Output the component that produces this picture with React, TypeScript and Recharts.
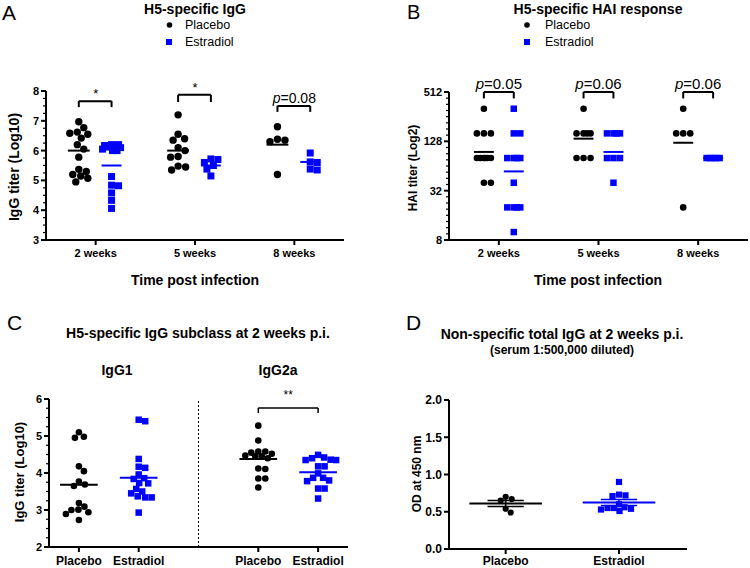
import React from "react";
import { ReferenceDot, ReferenceLine, Scatter, ScatterChart, XAxis, YAxis } from "recharts";

const FONT = "'Liberation Sans', Arial, Helvetica, sans-serif";
const BLUE = "#0000ff";
const BLACK = "#000000";

// ---------- A: H5-specific IgG (log10 titer) ----------
const weeks = ["2 weeks", "5 weeks", "8 weeks"];
const iggPlacebo2w = [6.97, 6.77, 6.62, 6.58, 6.55, 6.42, 6.2, 6.05, 5.78, 5.37, 5.3, 5.2, 5.15, 5.07, 4.95];
const iggEstradiol2w = [6.2, 6.2, 6.17, 6.15, 6.12, 6.1, 6.05, 6.0, 6.0, 5.13, 4.84, 4.82, 4.58, 4.33, 4.06];
const iggPlacebo5w = [7.2, 6.55, 6.4, 6.35, 6.1, 6.0, 5.8, 5.78, 5.48, 5.45, 5.35];
const iggEstradiol5w = [5.72, 5.7, 5.6, 5.5, 5.38, 5.15];
const iggPlacebo8w = [6.8, 6.38, 6.35, 6.3, 5.2];
const iggEstradiol8w = [5.92, 5.62, 5.6, 5.38, 5.35];
const iggPlaceboMean = [6.0, 6.0, 6.2];
const iggEstradiolMean = [5.5, 5.5, 5.62];
const iggStars = ["*", "*", "p=0.08"];

// ---------- B: HAI titers ----------
const haiPlacebo2w = [320, 160, 160, 160, 80, 80, 80, 80, 80, 80, 40, 40];
const haiEstradiol2w = [320, 160, 160, 80, 80, 80, 80, 40, 20, 20, 20, 20, 10];
const haiPlacebo5w = [320, 160, 160, 160, 160, 80, 80, 80];
const haiEstradiol5w = [160, 160, 160, 160, 80, 80, 80, 40];
const haiPlacebo8w = [320, 160, 160, 160, 20];
const haiEstradiol8w = [80, 80, 80, 80, 80];
const haiPlaceboMean = [95, 138, 123];
const haiEstradiolMean = [55, 95, 80];
const haiPvalues = ["p=0.05", "p=0.06", "p=0.06"];

// ---------- C: IgG subclass (log10 titer) ----------
const subclassTicks = ["Placebo", "Estradiol", "Placebo", "Estradiol"];
const igg1Placebo = [5.1, 4.95, 4.98, 4.18, 4.05, 3.77, 3.65, 3.69, 3.19, 2.94, 3.01, 3.0, 3.09, 2.89, 2.73];
const igg1Estradiol = [5.44, 5.4, 4.38, 4.14, 4.17, 3.96, 3.84, 3.86, 3.72, 3.73, 3.57, 3.45, 3.5, 3.34, 3.34, 3.37, 2.93];
const igg2aPlacebo = [5.28, 4.88, 4.58, 4.55, 4.52, 4.58, 4.45, 4.47, 4.45, 4.4, 4.12, 4.11, 3.85, 3.85, 3.61];
const igg2aEstradiol = [4.4, 4.36, 4.42, 4.49, 4.35, 4.35, 4.18, 4.18, 3.8, 3.87, 3.87, 3.78, 3.99, 3.58, 3.58, 3.31];
const subclassMeans = [3.68, 3.87, 4.38, 4.02];

// ---------- D: total IgG OD450 ----------
const odTicks = ["Placebo", "Estradiol"];
const odPlacebo = [0.67, 0.65, 0.7, 0.54, 0.49];
const odEstradiol = [0.9, 0.72, 0.73, 0.71, 0.6, 0.55, 0.54, 0.51, 0.53, 0.55, 0.56];
const odMean = [0.61, 0.625];
const odSem = [0.04, 0.04];

type Pt = { x: number; y: number };

// simple beeswarm: spread points of similar value sideways (px units)
function swarm(values: number[], center: number, sx: number, sy: number, diam: number, maxHalf: number): Pt[] {
  const order = values.map((_, i) => i).sort((a, b) => values[b] - values[a]);
  const cands = [0];
  for (let s = 0.5; s <= maxHalf; s += 0.5) cands.push(s, -s);
  const placed: { dx: number; py: number }[] = [];
  const out: Pt[] = new Array(values.length);
  for (const i of order) {
    const py = values[i] * sy;
    let best = 0;
    let bestDist = -1;
    for (const dx of cands) {
      let m = Infinity;
      for (const p of placed) m = Math.min(m, Math.hypot(p.dx - dx, p.py - py));
      if (m >= diam) { best = dx; break; }
      if (m > bestDist + 0.01) { bestDist = m; best = dx; }
    }
    placed.push({ dx: best, py });
    out[i] = { x: center + best / sx, y: values[i] };
  }
  return out;
}

const log2 = (v: number) => Math.log2(v);

const dot = (r: number) => (p: any) => <circle cx={p.cx} cy={p.cy} r={r} fill={BLACK} />;
const square = (s: number) => (p: any) => <rect x={p.cx - s / 2} y={p.cy - s / 2} width={s} height={s} fill={BLUE} />;

function hSeg(key: string, x1: number, x2: number, y: number, color = BLACK, w = 2) {
  return <ReferenceLine key={key} segment={[{ x: x1, y }, { x: x2, y }]} stroke={color} strokeWidth={w} ifOverflow="visible" />;
}
function vSeg(key: string, x: number, y1: number, y2: number, color = BLACK, w = 2) {
  return <ReferenceLine key={key} segment={[{ x, y: y1 }, { x, y: y2 }]} stroke={color} strokeWidth={w} ifOverflow="visible" />;
}
function bracket(key: string, x1: number, x2: number, yTop: number, yLeg: number, w = 2) {
  return [vSeg(key + "l", x1, yLeg, yTop, BLACK, w), hSeg(key + "h", x1, x2, yTop, BLACK, w), vSeg(key + "r", x2, yLeg, yTop, BLACK, w)];
}
function note(key: string, x: number, y: number, label: string, size: number) {
  const isP = label.startsWith("p=");
  return (
    <ReferenceDot
      key={key}
      x={x}
      y={y}
      r={0}
      ifOverflow="visible"
      shape={(p: any) => (
        <text x={p.cx} y={p.cy} textAnchor="middle" dominantBaseline="central" fontSize={size} fontFamily={FONT} fill={BLACK}>
          {isP ? (
            <>
              <tspan fontStyle="italic">p</tspan>
              {label.slice(1)}
            </>
          ) : (
            label
          )}
        </text>
      )}
    />
  );
}

const yTick = (axisX: number, majors: number[], fmt: (v: number) => string, size: number) => (props: any) => {
  const { y, payload } = props;
  const v = payload.value;
  const major = majors.some((m) => Math.abs(m - v) < 1e-6);
  return (
    <g>
      <line x1={axisX - (major ? 5 : 3)} x2={axisX} y1={y} y2={y} stroke={BLACK} strokeWidth={major ? 2 : 1.2} />
      {major && (
        <text x={axisX - 7} y={y} dy="0.36em" textAnchor="end" fontSize={size} fontWeight={700} fontFamily={FONT} fill={BLACK}>
          {fmt(v)}
        </text>
      )}
    </g>
  );
};

const steps = (from: number, to: number, step: number) => {
  const out: number[] = [];
  for (let i = 0; from + i * step <= to + 1e-9; i++) out.push(+(from + i * step).toFixed(4));
  return out;
};

const axisLine = { stroke: BLACK, strokeWidth: 2 };
const xTickStyle = (size: number) => ({ fill: BLACK, fontSize: size, fontWeight: 700, fontFamily: FONT });

// ---------- Panel A ----------
function PanelA() {
  const sx = 298 / 3, sy = 149 / 5;
  const offP = -0.17, offE = 0.16;
  const placebo = [iggPlacebo2w, iggPlacebo5w, iggPlacebo8w].flatMap((g, i) => swarm(g, i + 0.5 + offP, sx, sy, 7.5, 9));
  const estradiol = [iggEstradiol2w, iggEstradiol5w, iggEstradiol8w].flatMap((g, i) => swarm(g, i + 0.5 + offE, sx, sy, 7, 9));
  const brTop = [7.66, 7.87, 7.5];
  const brLeg = [7.46, 7.63, 7.3];
  const noteY = [7.93, 8.13, 7.77];
  return (
    <ScatterChart width={375} height={300} margin={{ top: 91, right: 31, bottom: 20, left: 6 }}>
      <XAxis type="number" dataKey="x" domain={[0, 3]} ticks={[0.5, 1.5, 2.5]} tickFormatter={(v: number) => weeks[Math.floor(v)]}
        axisLine={axisLine} tickLine={axisLine} tickSize={5} tickMargin={4} tick={xTickStyle(11)} height={40} interval={0} />
      <YAxis type="number" dataKey="y" domain={[3, 8]} allowDataOverflow ticks={steps(3, 8, 0.25)} interval={0} width={40}
        axisLine={axisLine} tickLine={false} tickSize={0} tickMargin={0} tick={yTick(46, steps(3, 8, 1), (v) => String(v), 11)} />
      <Scatter data={placebo} shape={dot(3.7)} isAnimationActive={false} />
      <Scatter data={estradiol} shape={square(7)} isAnimationActive={false} />
      {iggPlaceboMean.map((m, i) => hSeg("pm" + i, i + 0.5 + offP - 0.11, i + 0.5 + offP + 0.11, m))}
      {iggEstradiolMean.map((m, i) => hSeg("em" + i, i + 0.5 + offE - 0.1, i + 0.5 + offE + 0.1, m, BLUE))}
      {weeks.flatMap((_, i) => bracket("br" + i, i + 0.5 + offP, i + 0.5 + offE, brTop[i], brLeg[i]))}
      {iggStars.map((s, i) => note("n" + i, i + 0.5, noteY[i], s, s === "*" ? 13 : 14))}
    </ScatterChart>
  );
}

// ---------- Panel B ----------
function PanelB() {
  const sx = 299 / 3, sy = 148 / 6;
  const offP = -0.15, offE = 0.15;
  const placebo = [haiPlacebo2w, haiPlacebo5w, haiPlacebo8w].flatMap((g, i) => swarm(g.map(log2), i + 0.5 + offP, sx, sy, 6.6, 7));
  const estradiol = [haiEstradiol2w, haiEstradiol5w, haiEstradiol8w].flatMap((g, i) => swarm(g.map(log2), i + 0.5 + offE, sx, sy, 6.5, 7));
  return (
    <ScatterChart width={375} height={300} margin={{ top: 92, right: 2, bottom: 20, left: 34 }}>
      <XAxis type="number" dataKey="x" domain={[0, 3]} ticks={[0.5, 1.5, 2.5]} tickFormatter={(v: number) => weeks[Math.floor(v)]}
        axisLine={axisLine} tickLine={axisLine} tickSize={5} tickMargin={4} tick={xTickStyle(11)} height={40} interval={0} />
      <YAxis type="number" dataKey="y" domain={[3, 9]} allowDataOverflow ticks={steps(3, 9, 0.25)} interval={0} width={40}
        axisLine={axisLine} tickLine={false} tickSize={0} tickMargin={0} tick={yTick(74, [3, 5, 7, 9], (v) => String(2 ** v), 11)} />
      <Scatter data={placebo} shape={dot(3.3)} isAnimationActive={false} />
      <Scatter data={estradiol} shape={square(6.5)} isAnimationActive={false} />
      {haiPlaceboMean.map((m, i) => hSeg("pm" + i, i + 0.5 + offP - 0.1, i + 0.5 + offP + 0.1, log2(m)))}
      {haiEstradiolMean.map((m, i) => hSeg("em" + i, i + 0.5 + offE - 0.1, i + 0.5 + offE + 0.1, log2(m), BLUE))}
      {weeks.flatMap((_, i) => bracket("br" + i, i + 0.5 + offP, i + 0.5 + offE, 9, 8.74))}
      {haiPvalues.map((s, i) => note("n" + i, i + 0.5, 9.36, s, 15))}
    </ScatterChart>
  );
}

// ---------- Panel C ----------
function PanelC() {
  const sx = 299 / 10, sy = 148 / 4;
  const centers = [1, 3, 7, 9];
  const placebo = [...swarm(igg1Placebo, 1, sx, sy, 6.6, 16), ...swarm(igg2aPlacebo, 7, sx, sy, 6.6, 16)];
  const estradiol = [...swarm(igg1Estradiol, 3, sx, sy, 6.5, 18), ...swarm(igg2aEstradiol, 9, sx, sy, 6.5, 18)];
  return (
    <ScatterChart width={375} height={268} margin={{ top: 99, right: 27, bottom: 1, left: 9 }}>
      <XAxis type="number" dataKey="x" domain={[0, 10]} ticks={centers} tickFormatter={(v: number) => subclassTicks[centers.indexOf(v)]}
        axisLine={axisLine} tickLine={axisLine} tickSize={5} tickMargin={4} tick={xTickStyle(12)} height={20} interval={0} />
      <YAxis type="number" dataKey="y" domain={[2, 6]} allowDataOverflow ticks={steps(2, 6, 0.25)} interval={0} width={40}
        axisLine={axisLine} tickLine={false} tickSize={0} tickMargin={0} tick={yTick(49, steps(2, 6, 1), (v) => String(v), 11)} />
      <ReferenceLine x={5} stroke={BLACK} strokeWidth={1} strokeDasharray="2 2" />
      <Scatter data={placebo} shape={dot(3.3)} isAnimationActive={false} />
      <Scatter data={estradiol} shape={square(6.5)} isAnimationActive={false} />
      {subclassMeans.map((m, i) => hSeg("m" + i, centers[i] - 0.63, centers[i] + 0.63, m, i % 2 ? BLUE : BLACK))}
      {bracket("br", 7, 9, 5.76, 5.62, 1.5)}
      {note("n", 8, 6.11, "**", 12)}
    </ScatterChart>
  );
}

// ---------- Panel D ----------
function PanelD() {
  const sx = 238 / 4.2, sy = 149 / 2;
  const centers = [1, 3];
  const placebo = swarm(odPlacebo, 1, sx, sy, 6.2, 28);
  const estradiol = swarm(odEstradiol, 3, sx, sy, 6.2, 28);
  return (
    <ScatterChart width={375} height={268} margin={{ top: 100, right: 63, bottom: 1, left: 34 }}>
      <XAxis type="number" dataKey="x" domain={[0, 4.2]} ticks={centers} tickFormatter={(v: number) => odTicks[centers.indexOf(v)]}
        axisLine={axisLine} tickLine={axisLine} tickSize={5} tickMargin={2} tick={xTickStyle(12)} height={18} interval={0} />
      <YAxis type="number" dataKey="y" domain={[0, 2]} allowDataOverflow ticks={steps(0, 2, 0.5)} interval={0} width={40}
        axisLine={axisLine} tickLine={false} tickSize={0} tickMargin={0} tick={yTick(74, steps(0, 2, 0.5), (v) => v.toFixed(1), 12)} />
      <Scatter data={placebo} shape={dot(3.1)} isAnimationActive={false} />
      <Scatter data={estradiol} shape={square(6.2)} isAnimationActive={false} />
      {odMean.flatMap((m, i) => {
        const c = centers[i];
        const col = i ? BLUE : BLACK;
        return [
          hSeg("m" + i, c - 0.64, c + 0.64, m, col, 2),
          hSeg("su" + i, c - 0.32, c + 0.32, m + odSem[i], col, 1.5),
          hSeg("sl" + i, c - 0.32, c + 0.32, m - odSem[i], col, 1.5),
          vSeg("sv" + i, c, m - odSem[i], m + odSem[i], col, 1.5),
        ];
      })}
    </ScatterChart>
  );
}

const T = (p: { x: number; y: number; size: number; bold?: boolean; anchor?: "start" | "middle" | "end"; rotate?: boolean; children: React.ReactNode }) => (
  <text
    x={p.x}
    y={p.y}
    fontSize={p.size}
    fontWeight={p.bold ? 700 : 400}
    fontFamily={FONT}
    fill={BLACK}
    textAnchor={p.anchor ?? "middle"}
    dominantBaseline="central"
    transform={p.rotate ? `rotate(-90 ${p.x} ${p.y})` : undefined}
  >
    {p.children}
  </text>
);

function Overlay() {
  return (
    <svg width={750} height={568} style={{ position: "absolute", left: 0, top: 0, pointerEvents: "none" }}>
      {/* panel letters */}
      <text x={2} y={20} fontSize={21} fontFamily={FONT} fill={BLACK}>A</text>
      <text x={407} y={19} fontSize={20} fontFamily={FONT} fill={BLACK}>B</text>
      <text x={7} y={330} fontSize={21} fontFamily={FONT} fill={BLACK}>C</text>
      <text x={406} y={330} fontSize={21} fontFamily={FONT} fill={BLACK}>D</text>

      {/* A */}
      <T x={195} y={9} size={14} bold>H5-specific IgG</T>
      <circle cx={169.5} cy={25} r={2.8} fill={BLACK} />
      <T x={185} y={25} size={12.5} anchor="start">Placebo</T>
      <rect x={166} y={39} width={6} height={6} fill={BLUE} />
      <T x={185} y={42} size={12.5} anchor="start">Estradiol</T>
      <T x={195} y={280} size={14} bold>Time post infection</T>
      <T x={14} y={167} size={14} bold rotate>IgG titer (Log10)</T>

      {/* B */}
      <T x={598} y={9} size={14} bold>H5-specific HAI response</T>
      <circle cx={527} cy={25} r={2.8} fill={BLACK} />
      <T x={545} y={25} size={12.5} anchor="start">Placebo</T>
      <rect x={524} y={39} width={6} height={6} fill={BLUE} />
      <T x={545} y={42} size={12.5} anchor="start">Estradiol</T>
      <T x={598} y={280} size={14} bold>Time post infection</T>
      <T x={412.5} y={168} size={12} bold rotate>HAI titer (Log2)</T>

      {/* C */}
      <T x={198} y={333} size={14} bold>H5-specific IgG subclass at 2 weeks p.i.</T>
      <T x={117} y={370} size={14} bold>IgG1</T>
      <T x={278} y={370} size={14} bold>IgG2a</T>
      <T x={19} y={472} size={13} bold rotate>IgG titer (Log10)</T>

      {/* D */}
      <T x={562} y={334} size={14} bold>Non-specific total IgG at 2 weeks p.i.</T>
      <T x={562} y={350} size={12} bold>(serum 1:500,000 diluted)</T>
      <T x={417} y={474} size={12} bold rotate>OD at 450 nm</T>
    </svg>
  );
}

export default function App() {
  return (
    <div style={{ position: "absolute", left: 0, top: 0, width: 750, height: 568, background: "#fff", fontFamily: FONT }}>
      <div style={{ position: "absolute", left: 0, top: 0 }}><PanelA /></div>
      <div style={{ position: "absolute", left: 375, top: 0 }}><PanelB /></div>
      <div style={{ position: "absolute", left: 0, top: 300 }}><PanelC /></div>
      <div style={{ position: "absolute", left: 375, top: 300 }}><PanelD /></div>
      <Overlay />
    </div>
  );
}
